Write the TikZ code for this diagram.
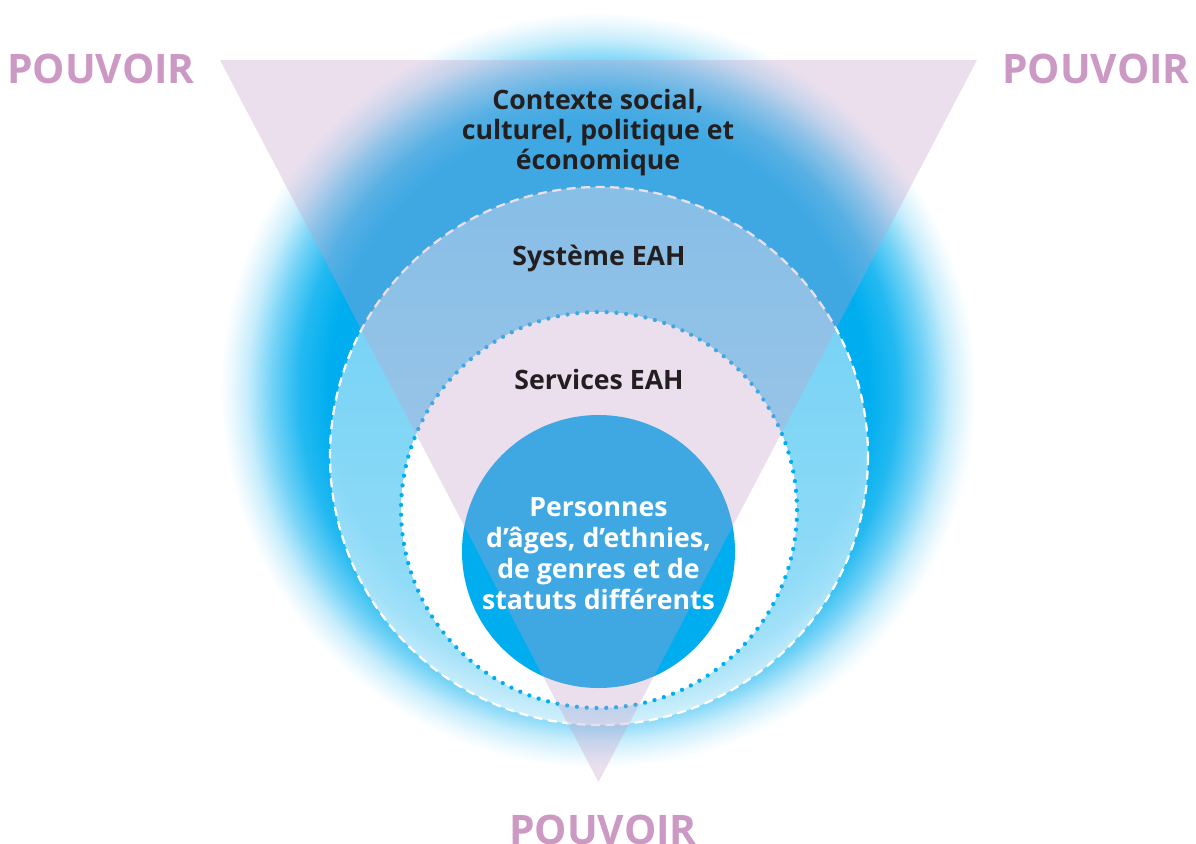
\documentclass[tikz,border=0pt]{standalone}
\usepackage{fontspec}
\usetikzlibrary{fadings}
\setmainfont{Open Sans}
\definecolor{cyanc}{RGB}{0,174,239}
\definecolor{pinkc}{RGB}{197,158,202}
\definecolor{pouv}{RGB}{204,153,197}
\definecolor{darkt}{RGB}{35,31,32}
\colorlet{glowa}{cyanc!86!white}
\colorlet{glowb}{cyanc!55!white}
\colorlet{glowc}{cyanc!22!white}
\colorlet{glowd}{cyanc!6!white}
\pgfdeclareradialshading{glowshade}{\pgfpoint{0bp}{0bp}}{color(0bp)=(cyanc); color(17.9bp)=(cyanc); color(19.8bp)=(glowa); color(21.6bp)=(glowb); color(23.2bp)=(glowc); color(24.4bp)=(glowd); color(25bp)=(white); color(50bp)=(white)}
\tikzset{
  lab/.style={font=\fontsize{20}{22.5}\selectfont\bfseries, text=darkt, align=center, inner sep=0pt},
  inlab/.style={font=\fontsize{20}{23.25}\selectfont\bfseries, text=white, align=center, inner sep=0pt},
  pow/.style={font=\fontsize{30.5}{36}\selectfont\bfseries, text=pouv, anchor=base, inner sep=0pt},
  dashring/.style={white, line width=1.7pt, dash pattern=on 6.8pt off 4.1pt},
  dotring/.style={cyanc, line width=3.2pt, line cap=round, dash pattern=on 0pt off 7.35pt},
}
\begin{document}
\begin{tikzpicture}[x=0.75pt,y=-0.75pt]
\useasboundingbox (0,0) rectangle (1196,843);
\fill[white] (0,0) rectangle (1196,843);
% glow
\shade[shading=glowshade] (598,390) circle (378);
% rings
\fill[white,fill opacity=0.42] (599,456) circle (269);
\fill[white,fill opacity=0.35,path fading=north] (599,456) circle (269);
\fill[white] (599,510) circle (198);
\fill[cyanc] (598.5,551.5) circle (136.5);
\draw[dashring] (599,456) circle (269);
\draw[dotring] (599,510) circle (198);
% power triangle
\fill[pinkc, fill opacity=0.32] (220,60) -- (977,60) -- (598.5,782) -- cycle;
% labels
\node[lab] (ctx) at (598,133) {Contexte social,\\culturel, politique et\\économique};
\node[lab] (sys) at (599,258) {Système EAH};
\node[lab] (srv) at (599,379) {Services EAH};
\node[inlab] (pers) at (598.5,554) {Personnes\\d’âges, d’ethnies,\\de genres et de\\statuts différents};
\node[pow] (pl) at (101,83) {POUVOIR};
\node[pow] (pr) at (1096,83) {POUVOIR};
\node[pow] (pb) at (603,844) {POUVOIR};
\end{tikzpicture}
\end{document}
